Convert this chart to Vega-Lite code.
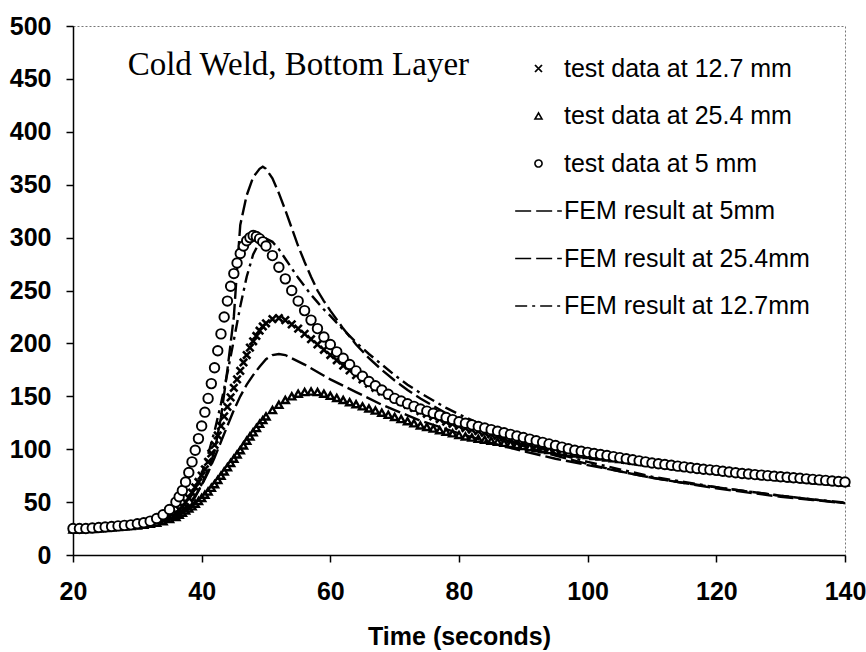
{
"$schema": "https://vega.github.io/schema/vega-lite/v6.json",
"width": 772, "height": 529,
"autosize": "none",
"padding": {"left": 73, "top": 26, "right": 21, "bottom": 97},
"background": "white",
"config": {
  "view": {"stroke": "#777", "strokeDash": [2, 2], "strokeWidth": 1},
  "font": "Liberation Sans",
  "axis": {"grid": false, "domainColor": "black", "domainWidth": 1.5, "tickColor": "black", "tickWidth": 1.5, "tickSize": 7, "labelColor": "black", "labelFont": "Liberation Sans", "labelFontSize": 25, "labelFontWeight": "bold", "labelFlush": false, "labelOverlap": false, "titleColor": "black", "titleFont": "Liberation Sans", "titleFontSize": 25, "titleFontWeight": "bold"}
},
"datasets": {
"t5": [{"time":20,"temp":25},{"time":21,"temp":25},{"time":22,"temp":25},{"time":23,"temp":25.5},{"time":24,"temp":26},{"time":25,"temp":26.5},{"time":26,"temp":27},{"time":27,"temp":27.5},{"time":28,"temp":28},{"time":29,"temp":28.5},{"time":30,"temp":29.5},{"time":31,"temp":30.5},{"time":32,"temp":32},{"time":33,"temp":34.5},{"time":34,"temp":38},{"time":35,"temp":43},{"time":36,"temp":50},{"time":36.5,"temp":55},{"time":37,"temp":61},{"time":37.5,"temp":69},{"time":38,"temp":78},{"time":38.5,"temp":88},{"time":39,"temp":99},{"time":39.5,"temp":110},{"time":40,"temp":122},{"time":40.5,"temp":135},{"time":41,"temp":148},{"time":41.5,"temp":162},{"time":42,"temp":177},{"time":42.5,"temp":193},{"time":43,"temp":209},{"time":43.5,"temp":225},{"time":44,"temp":240},{"time":44.5,"temp":254},{"time":45,"temp":266},{"time":45.5,"temp":276},{"time":46,"temp":285},{"time":46.5,"temp":292},{"time":47,"temp":297},{"time":47.5,"temp":300},{"time":48,"temp":302},{"time":48.5,"temp":301},{"time":49,"temp":299},{"time":49.5,"temp":296},{"time":50,"temp":292},{"time":51,"temp":283},{"time":52,"temp":272},{"time":53,"temp":261},{"time":54,"temp":250},{"time":55,"temp":240},{"time":56,"temp":231},{"time":57,"temp":222},{"time":58,"temp":214},{"time":59,"temp":206},{"time":60,"temp":199},{"time":61,"temp":192},{"time":62,"temp":186},{"time":63,"temp":180},{"time":64,"temp":174},{"time":65,"temp":169},{"time":66,"temp":164},{"time":67,"temp":160},{"time":68,"temp":156},{"time":69,"temp":152},{"time":70,"temp":148},{"time":71,"temp":145.5},{"time":72,"temp":143},{"time":73,"temp":140.5},{"time":74,"temp":138},{"time":75,"temp":136},{"time":76,"temp":134},{"time":77,"temp":132},{"time":78,"temp":130},{"time":79,"temp":128},{"time":80,"temp":126},{"time":81,"temp":124.5},{"time":82,"temp":123},{"time":83,"temp":121.5},{"time":84,"temp":120},{"time":85,"temp":118.5},{"time":86,"temp":117},{"time":87,"temp":115.5},{"time":88,"temp":114},{"time":89,"temp":112.5},{"time":90,"temp":111},{"time":91,"temp":109.5},{"time":92,"temp":108},{"time":93,"temp":106.5},{"time":94,"temp":105},{"time":95,"temp":103.5},{"time":96,"temp":102},{"time":97,"temp":100.5},{"time":98,"temp":99},{"time":99,"temp":98},{"time":100,"temp":97},{"time":101,"temp":96},{"time":102,"temp":95},{"time":103,"temp":94},{"time":104,"temp":93},{"time":105,"temp":92},{"time":106,"temp":91},{"time":107,"temp":90},{"time":108,"temp":89},{"time":109,"temp":88},{"time":110,"temp":87},{"time":111,"temp":86.3},{"time":112,"temp":85.5},{"time":113,"temp":84.8},{"time":114,"temp":84},{"time":115,"temp":83.3},{"time":116,"temp":82.5},{"time":117,"temp":81.8},{"time":118,"temp":81},{"time":119,"temp":80.5},{"time":120,"temp":80},{"time":121,"temp":79.2},{"time":122,"temp":78.5},{"time":123,"temp":77.8},{"time":124,"temp":77},{"time":125,"temp":76.5},{"time":126,"temp":76},{"time":127,"temp":75.5},{"time":128,"temp":75},{"time":129,"temp":74.5},{"time":130,"temp":74},{"time":131,"temp":73.5},{"time":132,"temp":73},{"time":133,"temp":72.5},{"time":134,"temp":72},{"time":135,"temp":71.5},{"time":136,"temp":71},{"time":137,"temp":70.5},{"time":138,"temp":70},{"time":139,"temp":69.5},{"time":140,"temp":69}],
"t12": [{"time":20,"temp":24.5},{"time":21,"temp":24.5},{"time":22,"temp":25},{"time":23,"temp":25},{"time":24,"temp":25.5},{"time":25,"temp":26},{"time":26,"temp":26.5},{"time":27,"temp":27},{"time":28,"temp":27.5},{"time":29,"temp":28},{"time":30,"temp":28.5},{"time":31,"temp":29.5},{"time":32,"temp":30.5},{"time":33,"temp":32},{"time":34,"temp":33.5},{"time":35,"temp":36},{"time":36,"temp":40},{"time":36.5,"temp":43},{"time":37,"temp":46},{"time":37.5,"temp":50},{"time":38,"temp":54},{"time":38.5,"temp":59},{"time":39,"temp":64},{"time":39.5,"temp":69},{"time":40,"temp":75},{"time":40.5,"temp":81},{"time":41,"temp":88},{"time":41.5,"temp":96},{"time":42,"temp":104},{"time":42.5,"temp":113},{"time":43,"temp":122},{"time":43.5,"temp":131},{"time":44,"temp":140},{"time":44.5,"temp":149},{"time":45,"temp":158},{"time":45.5,"temp":166},{"time":46,"temp":174},{"time":46.5,"temp":182},{"time":47,"temp":189},{"time":47.5,"temp":196},{"time":48,"temp":202},{"time":48.5,"temp":207},{"time":49,"temp":212},{"time":49.5,"temp":216},{"time":50,"temp":219},{"time":51,"temp":223},{"time":52,"temp":224},{"time":53,"temp":222},{"time":54,"temp":218},{"time":55,"temp":214},{"time":56,"temp":209},{"time":57,"temp":204},{"time":58,"temp":199},{"time":59,"temp":194},{"time":60,"temp":189},{"time":61,"temp":184},{"time":62,"temp":179},{"time":63,"temp":174.5},{"time":64,"temp":170},{"time":65,"temp":166},{"time":66,"temp":162},{"time":67,"temp":158},{"time":68,"temp":154.5},{"time":69,"temp":151},{"time":70,"temp":148},{"time":71,"temp":145},{"time":72,"temp":142},{"time":73,"temp":139},{"time":74,"temp":136},{"time":75,"temp":133.5},{"time":76,"temp":131},{"time":77,"temp":128.5},{"time":78,"temp":126},{"time":79,"temp":124},{"time":80,"temp":122},{"time":81,"temp":120},{"time":82,"temp":118.5},{"time":83,"temp":117},{"time":84,"temp":115.5},{"time":85,"temp":114},{"time":86,"temp":112.5},{"time":87,"temp":111},{"time":88,"temp":109.5},{"time":89,"temp":108},{"time":90,"temp":107},{"time":91,"temp":105.5},{"time":92,"temp":104},{"time":93,"temp":103},{"time":94,"temp":102},{"time":95,"temp":101},{"time":96,"temp":100},{"time":97,"temp":99},{"time":98,"temp":98},{"time":99,"temp":97},{"time":100,"temp":96},{"time":101,"temp":95},{"time":102,"temp":94},{"time":103,"temp":93},{"time":104,"temp":92},{"time":105,"temp":91},{"time":106,"temp":90},{"time":107,"temp":89},{"time":108,"temp":88.3},{"time":109,"temp":87.5},{"time":110,"temp":86.8},{"time":111,"temp":86},{"time":112,"temp":85.2},{"time":113,"temp":84.5},{"time":114,"temp":83.8},{"time":115,"temp":83},{"time":116,"temp":82.3},{"time":117,"temp":81.6},{"time":118,"temp":81},{"time":119,"temp":80.3},{"time":120,"temp":79.7},{"time":121,"temp":79},{"time":122,"temp":78.4},{"time":123,"temp":77.8},{"time":124,"temp":77.2},{"time":125,"temp":76.6},{"time":126,"temp":76},{"time":127,"temp":75.4},{"time":128,"temp":74.8},{"time":129,"temp":74.3},{"time":130,"temp":73.8},{"time":131,"temp":73.3},{"time":132,"temp":72.8},{"time":133,"temp":72.3},{"time":134,"temp":71.8},{"time":135,"temp":71.3},{"time":136,"temp":70.8},{"time":137,"temp":70.3},{"time":138,"temp":69.8},{"time":139,"temp":69.3},{"time":140,"temp":68.8}],
"t25": [{"time":20,"temp":24},{"time":21,"temp":24},{"time":22,"temp":24.5},{"time":23,"temp":24.5},{"time":24,"temp":25},{"time":25,"temp":25.5},{"time":26,"temp":26},{"time":27,"temp":26.5},{"time":28,"temp":27},{"time":29,"temp":27.5},{"time":30,"temp":28},{"time":31,"temp":28.5},{"time":32,"temp":29.5},{"time":33,"temp":30.5},{"time":34,"temp":32},{"time":35,"temp":34},{"time":36,"temp":36},{"time":36.5,"temp":38},{"time":37,"temp":40},{"time":37.5,"temp":42},{"time":38,"temp":44},{"time":38.5,"temp":46},{"time":39,"temp":48.5},{"time":39.5,"temp":51},{"time":40,"temp":54},{"time":40.5,"temp":57},{"time":41,"temp":60},{"time":41.5,"temp":63.5},{"time":42,"temp":67},{"time":42.5,"temp":71},{"time":43,"temp":75},{"time":43.5,"temp":79},{"time":44,"temp":83},{"time":44.5,"temp":87},{"time":45,"temp":91},{"time":45.5,"temp":95},{"time":46,"temp":99},{"time":46.5,"temp":103.5},{"time":47,"temp":108},{"time":47.5,"temp":112},{"time":48,"temp":116},{"time":48.5,"temp":120},{"time":49,"temp":124},{"time":49.5,"temp":127.5},{"time":50,"temp":131},{"time":51,"temp":137},{"time":52,"temp":142},{"time":53,"temp":146.5},{"time":54,"temp":150},{"time":55,"temp":152.5},{"time":56,"temp":154},{"time":57,"temp":154.5},{"time":58,"temp":154},{"time":59,"temp":152.5},{"time":60,"temp":150.5},{"time":61,"temp":148.5},{"time":62,"temp":146.5},{"time":63,"temp":144.5},{"time":64,"temp":142.5},{"time":65,"temp":140.5},{"time":66,"temp":138.5},{"time":67,"temp":136.5},{"time":68,"temp":134.5},{"time":69,"temp":132.5},{"time":70,"temp":130.5},{"time":71,"temp":128.5},{"time":72,"temp":126.5},{"time":73,"temp":124.5},{"time":74,"temp":122.5},{"time":75,"temp":121},{"time":76,"temp":119.5},{"time":77,"temp":118},{"time":78,"temp":116.5},{"time":79,"temp":115},{"time":80,"temp":113.5},{"time":81,"temp":112},{"time":82,"temp":111},{"time":83,"temp":110},{"time":84,"temp":109},{"time":85,"temp":108},{"time":86,"temp":107},{"time":87,"temp":106},{"time":88,"temp":105},{"time":89,"temp":104},{"time":90,"temp":103},{"time":91,"temp":102},{"time":92,"temp":101},{"time":93,"temp":100},{"time":94,"temp":99.2},{"time":95,"temp":98.4},{"time":96,"temp":97.6},{"time":97,"temp":96.8},{"time":98,"temp":96},{"time":99,"temp":95.2},{"time":100,"temp":94.5},{"time":101,"temp":93.7},{"time":102,"temp":93},{"time":103,"temp":92.2},{"time":104,"temp":91.5},{"time":105,"temp":90.7},{"time":106,"temp":90},{"time":107,"temp":89.2},{"time":108,"temp":88.5},{"time":109,"temp":87.7},{"time":110,"temp":87},{"time":111,"temp":86.3},{"time":112,"temp":85.5},{"time":113,"temp":84.8},{"time":114,"temp":84},{"time":115,"temp":83.3},{"time":116,"temp":82.6},{"time":117,"temp":81.9},{"time":118,"temp":81.2},{"time":119,"temp":80.5},{"time":120,"temp":79.8},{"time":121,"temp":79.1},{"time":122,"temp":78.4},{"time":123,"temp":77.8},{"time":124,"temp":77.2},{"time":125,"temp":76.6},{"time":126,"temp":76},{"time":127,"temp":75.4},{"time":128,"temp":74.8},{"time":129,"temp":74.2},{"time":130,"temp":73.6},{"time":131,"temp":73},{"time":132,"temp":72.5},{"time":133,"temp":72},{"time":134,"temp":71.5},{"time":135,"temp":71},{"time":136,"temp":70.5},{"time":137,"temp":70},{"time":138,"temp":69.5},{"time":139,"temp":69},{"time":140,"temp":68.5}],
"f5": [{"time":20,"temp":25},{"time":25,"temp":26},{"time":30,"temp":28},{"time":33,"temp":30},{"time":35,"temp":33},{"time":36,"temp":36},{"time":37,"temp":40},{"time":38,"temp":46},{"time":39,"temp":55},{"time":40,"temp":66},{"time":41,"temp":80},{"time":42,"temp":98},{"time":43,"temp":130},{"time":44,"temp":175},{"time":45,"temp":225},{"time":45.5,"temp":270},{"time":46,"temp":312},{"time":47,"temp":340},{"time":48,"temp":357},{"time":49,"temp":365},{"time":49.5,"temp":367},{"time":50,"temp":365},{"time":51,"temp":356},{"time":52,"temp":342},{"time":53,"temp":326},{"time":54,"temp":309},{"time":55,"temp":292},{"time":56,"temp":277},{"time":57,"temp":263},{"time":58,"temp":250},{"time":59,"temp":240},{"time":60,"temp":231},{"time":62,"temp":214},{"time":64,"temp":199},{"time":66,"temp":186},{"time":68,"temp":175},{"time":70,"temp":165},{"time":72,"temp":156},{"time":74,"temp":148},{"time":76,"temp":141},{"time":78,"temp":134},{"time":80,"temp":128},{"time":85,"temp":115},{"time":90,"temp":103},{"time":95,"temp":94},{"time":100,"temp":86},{"time":105,"temp":79},{"time":110,"temp":73},{"time":115,"temp":68},{"time":120,"temp":63},{"time":125,"temp":59},{"time":130,"temp":55},{"time":135,"temp":52},{"time":140,"temp":49}],
"f12": [{"time":20,"temp":25},{"time":25,"temp":26},{"time":30,"temp":28},{"time":33,"temp":30},{"time":35,"temp":34},{"time":36,"temp":38},{"time":37,"temp":44},{"time":38,"temp":52},{"time":39,"temp":63},{"time":40,"temp":77},{"time":41,"temp":95},{"time":42,"temp":117},{"time":43,"temp":143},{"time":44,"temp":172},{"time":45,"temp":203},{"time":46,"temp":235},{"time":47,"temp":263},{"time":48,"temp":284},{"time":49,"temp":296},{"time":50,"temp":299},{"time":51,"temp":296},{"time":52,"temp":289},{"time":53,"temp":280},{"time":54,"temp":271},{"time":55,"temp":262},{"time":56,"temp":254},{"time":57,"temp":246},{"time":58,"temp":239},{"time":59,"temp":232},{"time":60,"temp":226},{"time":62,"temp":213},{"time":64,"temp":201},{"time":66,"temp":190},{"time":68,"temp":180},{"time":70,"temp":170},{"time":72,"temp":161},{"time":74,"temp":153},{"time":76,"temp":146},{"time":78,"temp":139},{"time":80,"temp":133},{"time":85,"temp":119},{"time":90,"temp":107},{"time":95,"temp":96},{"time":100,"temp":88},{"time":105,"temp":81},{"time":110,"temp":74},{"time":115,"temp":69},{"time":120,"temp":64},{"time":125,"temp":60},{"time":130,"temp":56},{"time":135,"temp":52.5},{"time":140,"temp":49.5}],
"f25": [{"time":20,"temp":25},{"time":25,"temp":26},{"time":30,"temp":28},{"time":33,"temp":30},{"time":35,"temp":35},{"time":36,"temp":38},{"time":37,"temp":42},{"time":38,"temp":48},{"time":39,"temp":56},{"time":40,"temp":66},{"time":41,"temp":78},{"time":42,"temp":92},{"time":43,"temp":107},{"time":44,"temp":122},{"time":45,"temp":137},{"time":46,"temp":150},{"time":47,"temp":161},{"time":48,"temp":170},{"time":49,"temp":178},{"time":50,"temp":185},{"time":51,"temp":189},{"time":52,"temp":190},{"time":53,"temp":189},{"time":54,"temp":186},{"time":56,"temp":180},{"time":58,"temp":173},{"time":60,"temp":166},{"time":62,"temp":160},{"time":64,"temp":154},{"time":66,"temp":148},{"time":68,"temp":142},{"time":70,"temp":137},{"time":72,"temp":132},{"time":74,"temp":127},{"time":76,"temp":123},{"time":78,"temp":119},{"time":80,"temp":115},{"time":85,"temp":106},{"time":90,"temp":98},{"time":95,"temp":91},{"time":100,"temp":85},{"time":105,"temp":79},{"time":110,"temp":73},{"time":115,"temp":68},{"time":120,"temp":64},{"time":125,"temp":60},{"time":130,"temp":56},{"time":135,"temp":52.5},{"time":140,"temp":49}]
},
"layer": [
 {
  "encoding": {
    "x": {"field": "time", "type": "quantitative", "scale": {"domain": [20, 140], "nice": false, "zero": false},
          "axis": {"title": "Time (seconds)", "values": [20, 40, 60, 80, 100, 120, 140], "labelPadding": 17, "titlePadding": 20}},
    "y": {"field": "temp", "type": "quantitative", "scale": {"domain": [0, 500], "nice": false},
          "axis": {"title": null, "values": [0, 50, 100, 150, 200, 250, 300, 350, 400, 450, 500], "labelPadding": 15}}
  },
  "layer": [
  {"data": {"name": "f5"}, "mark": {"type": "line", "color": "black", "strokeWidth": 2.4},
   "encoding": {"strokeDash": {"datum": "FEM result at 5mm",
     "scale": {"domain": ["test data at 12.7 mm", "test data at 25.4 mm", "test data at 5 mm", "FEM result at 5mm", "FEM result at 25.4mm", "FEM result at 12.7mm"], "range": [[1, 0], [1, 0], [1, 0], [16, 5], [16, 5], [12, 5, 3, 5]]},
     "legend": {"title": null, "orient": "none", "legendX": 453, "legendY": 30, "symbolSize": 50, "symbolStrokeWidth": 1.6, "symbolStrokeColor": "black", "labelFont": "Liberation Sans", "labelFontSize": 25, "labelColor": "black", "labelOffset": 13, "rowPadding": 21.5, "padding": 0, "labelLimit": 400}}}},
  {"data": {"name": "f25"}, "mark": {"type": "line", "color": "black", "strokeWidth": 2.4},
   "encoding": {"strokeDash": {"datum": "FEM result at 25.4mm"}}},
  {"data": {"name": "f12"}, "mark": {"type": "line", "color": "black", "strokeWidth": 2.4},
   "encoding": {"strokeDash": {"datum": "FEM result at 12.7mm"}}},
  {"data": {"name": "t25"}, "mark": {"type": "point", "filled": false, "stroke": "black", "strokeWidth": 2.4, "size": 50, "opacity": 1},
   "encoding": {"shape": {"datum": "test data at 25.4 mm",
     "scale": {"domain": ["test data at 12.7 mm", "test data at 25.4 mm", "test data at 5 mm", "FEM result at 5mm", "FEM result at 25.4mm", "FEM result at 12.7mm"], "range": ["M-1,-1L1,1M1,-1L-1,1", "triangle-up", "circle", "M-6.6,0H6.6", "M-6.6,0H6.6", "M-6.6,0H6.6"]},
     "legend": {"title": null, "orient": "none", "legendX": 453, "legendY": 30, "symbolSize": 50, "symbolStrokeWidth": 1.6, "symbolStrokeColor": "black", "labelFont": "Liberation Sans", "labelFontSize": 25, "labelColor": "black", "labelOffset": 13, "rowPadding": 21.5, "padding": 0, "labelLimit": 400}}}},
  {"data": {"name": "t12"}, "mark": {"type": "point", "filled": false, "stroke": "black", "strokeWidth": 2.6, "size": 55, "opacity": 1},
   "encoding": {"shape": {"datum": "test data at 12.7 mm"}}},
  {"data": {"name": "t5"}, "mark": {"type": "point", "filled": true, "fill": "white", "stroke": "black", "strokeWidth": 1.9, "size": 90, "opacity": 1},
   "encoding": {"shape": {"datum": "test data at 5 mm"}}}
  ]
 },
 {"data": {"values": [{"label": "Cold Weld, Bottom Layer"}]},
  "mark": {"type": "text", "font": "Liberation Serif", "fontSize": 33, "align": "left", "baseline": "middle", "color": "black"},
  "encoding": {"x": {"datum": 28.5, "type": "quantitative"}, "y": {"datum": 463, "type": "quantitative"}, "text": {"field": "label", "type": "nominal"}}}
]
}
